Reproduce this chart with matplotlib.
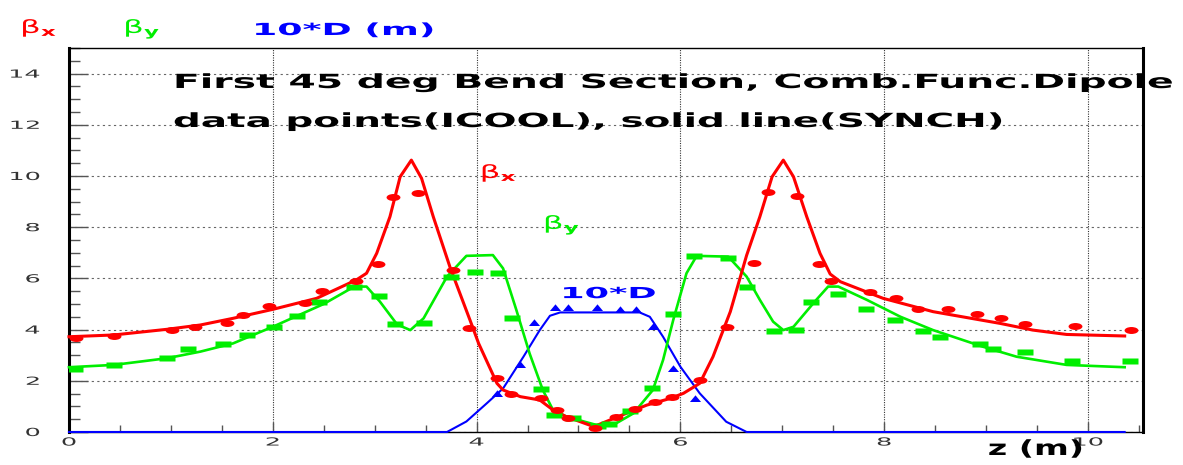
import numpy as np
import matplotlib.pyplot as plt
from matplotlib.path import Path
from matplotlib.patheffects import AbstractPathEffect
from matplotlib.transforms import Affine2D
from matplotlib.ticker import MultipleLocator

plt.rcParams['font.family'] = 'DejaVu Sans'
plt.rcParams['mathtext.fontset'] = 'dejavusans'

# SYNCH lattice functions (solid lines), z in m
z_synch_bx = [0, 0.44, 0.96, 1.29, 1.61, 2.0, 2.43, 2.82, 2.92, 3.02, 3.15, 3.25,
              3.36, 3.46, 3.575, 3.74, 3.935, 4.02, 4.20, 4.26, 4.43, 4.62, 4.75,
              4.88, 5.15, 5.31, 5.47, 5.67, 5.90, 6.03, 6.19, 6.32, 6.49, 6.65,
              6.78, 6.90, 7.01, 7.11, 7.24, 7.37, 7.47, 7.57, 7.99, 8.48, 9.14,
              9.46, 9.79, 10.36]
beta_x_synch = [3.72, 3.79, 4.01, 4.18, 4.44, 4.79, 5.22, 5.94, 6.2, 6.98, 8.41, 9.97,
                10.62, 9.91, 8.41, 6.43, 4.375, 3.46, 1.90, 1.64, 1.38, 1.25, 0.86,
                0.60, 0.21, 0.47, 0.73, 1.05, 1.31, 1.51, 1.90, 2.94, 4.7, 6.9,
                8.41, 9.97, 10.62, 9.97, 8.41, 6.98, 6.17, 5.87, 5.22, 4.70, 4.24,
                3.98, 3.81, 3.75]

z_synch_by = [0, 0.44, 0.96, 1.29, 1.61, 2.0, 2.50, 2.80, 2.92, 3.05, 3.22, 3.35,
              3.48, 3.71, 3.90, 4.16, 4.26, 4.39, 4.52, 4.65, 4.75, 4.88, 5.18,
              5.34, 5.54, 5.73, 5.83, 5.93, 6.06, 6.16, 6.47, 6.65, 6.78, 6.91,
              7.01, 7.11, 7.32, 7.45, 7.55, 7.83, 8.16, 8.48, 8.97, 9.30, 9.79,
              10.36]
beta_y_synch = [2.53, 2.62, 2.88, 3.14, 3.46, 4.11, 5.0, 5.68, 5.68, 5.1, 4.2, 3.98,
                4.44, 6.07, 6.88, 6.91, 6.39, 4.77, 3.07, 1.64, 0.86, 0.60, 0.27,
                0.27, 0.73, 1.64, 2.81, 4.375, 6.20, 6.88, 6.85, 6.07, 5.16, 4.31,
                3.98, 4.11, 5.1, 5.68, 5.68, 5.16, 4.50, 3.98, 3.33, 2.94, 2.62,
                2.53]

z_synch_d = [0, 3.71, 3.90, 4.10, 4.26, 4.46, 4.62, 4.72, 4.82, 5.60, 5.70, 5.83,
             6.00, 6.19, 6.45, 6.65, 10.36]
disp10_synch = [0, 0, 0.41, 1.12, 1.70, 2.94, 3.98, 4.54, 4.67, 4.67, 4.50, 3.72,
                2.55, 1.51, 0.40, 0, 0]

# ICOOL tracking results (data points)
z_icool_bx = [0.07, 0.44, 1.01, 1.24, 1.55, 1.71, 1.96, 2.32, 2.48, 2.82, 3.03,
              3.18, 3.43, 3.77, 3.93, 4.20, 4.34, 4.63, 4.79, 4.90, 5.16, 5.37,
              5.55, 5.75, 5.92, 6.19, 6.46, 6.72, 6.86, 7.14, 7.36, 7.48, 7.86,
              8.12, 8.33, 8.63, 8.91, 9.15, 9.38, 9.87, 10.42]
beta_x_icool = [3.68, 3.75, 3.98, 4.09, 4.24, 4.57, 4.93, 5.05, 5.49, 5.90, 6.55,
                9.19, 9.32, 6.33, 4.07, 2.12, 1.48, 1.31, 0.86, 0.56, 0.17, 0.57,
                0.89, 1.18, 1.38, 2.03, 4.09, 6.59, 9.36, 9.21, 6.55, 5.90, 5.48,
                5.22, 4.82, 4.79, 4.62, 4.44, 4.20, 4.15, 3.98]

z_icool_by = [0.06, 0.44, 0.96, 1.17, 1.51, 1.75, 2.01, 2.24, 2.45, 2.80, 3.04,
              3.20, 3.48, 3.75, 3.98, 4.21, 4.35, 4.63, 4.76, 4.95, 5.19, 5.30,
              5.51, 5.72, 5.93, 6.13, 6.47, 6.65, 6.92, 7.13, 7.28, 7.55, 7.82,
              8.11, 8.38, 8.55, 8.94, 9.07, 9.38, 9.84, 10.41]
beta_y_icool = [2.45, 2.62, 2.88, 3.23, 3.42, 3.80, 4.09, 4.54, 5.09, 5.65, 5.33,
                4.22, 4.27, 6.04, 6.25, 6.20, 4.44, 1.67, 0.66, 0.53, 0.23, 0.30,
                0.83, 1.72, 4.61, 6.88, 6.78, 5.65, 3.95, 3.98, 5.08, 5.38, 4.82,
                4.375, 3.93, 3.70, 3.43, 3.24, 3.14, 2.79, 2.79]

z_icool_d = [4.20, 4.43, 4.56, 4.77, 4.90, 5.18, 5.41, 5.56, 5.73, 5.93, 6.14]
disp10_icool = [1.47, 2.62, 4.27, 4.85, 4.85, 4.85, 4.77, 4.77, 4.11, 2.46, 1.27]

xticks = [0, 2, 4, 6, 8, 10]
yticks = [0, 2, 4, 6, 8, 10, 12, 14]

RED, GREEN, BLUE = '#ff0000', '#00ee00', '#0000ff'


class Widen(AbstractPathEffect):
    """Draw text glyphs stretched horizontally about a fixed edge or the centre."""

    def __init__(self, sx, anchor='left'):
        super().__init__()
        self.sx = sx
        self.anchor = anchor

    def draw_path(self, renderer, gc, tpath, affine, rgbFace=None):
        verts = tpath.vertices
        if tpath.codes is not None:
            verts = verts[tpath.codes != Path.CLOSEPOLY]
        if len(verts) == 0:
            return
        if self.anchor == 'right':
            x0 = verts[:, 0].max()
        elif self.anchor == 'center':
            x0 = 0.5 * (verts[:, 0].min() + verts[:, 0].max())
        else:
            x0 = 0.0
        stretch = Affine2D().translate(-x0, 0).scale(self.sx, 1.0).translate(x0, 0)
        renderer.draw_path(gc, tpath, stretch + affine, rgbFace)


# flattened marker shapes
ellipse = Path.unit_circle().transformed(Affine2D().scale(1.0, 0.5))
flat_rect = Path([(-1, -0.4), (1, -0.4), (1, 0.4), (-1, 0.4), (-1, -0.4)],
                 [Path.MOVETO, Path.LINETO, Path.LINETO, Path.LINETO, Path.CLOSEPOLY])
flat_tri = Path([(-1, -0.45), (1, -0.45), (0, 0.75), (-1, -0.45)],
                [Path.MOVETO, Path.LINETO, Path.LINETO, Path.CLOSEPOLY])

fig = plt.figure(figsize=(11.83, 4.65), dpi=100)
ax = fig.add_axes([0.0583, 0.0710, 0.9079, 0.8258])

ax.plot(z_synch_d, disp10_synch, color=BLUE, lw=1.5, clip_on=False, zorder=4)
ax.plot(z_synch_by, beta_y_synch, color=GREEN, lw=1.9, clip_on=False, zorder=4)
ax.plot(z_synch_bx, beta_x_synch, color=RED, lw=2.2, clip_on=False, zorder=5)

ax.plot(z_icool_d, disp10_icool, ls='none', marker=flat_tri, ms=8,
        color=BLUE, mec='none', zorder=6)
ax.plot(z_icool_by, beta_y_icool, ls='none', marker=flat_rect, ms=11,
        color=GREEN, mec='none', zorder=6)
ax.plot(z_icool_bx, beta_x_icool, ls='none', marker=ellipse, ms=10,
        color=RED, mec='none', zorder=7)

ax.set_xlim(0, 10.54)
ax.set_ylim(0, 15)
ax.set_xticks(xticks)
ax.set_yticks(yticks)
ax.xaxis.set_minor_locator(MultipleLocator(0.5))
ax.yaxis.set_minor_locator(MultipleLocator(0.5))
ax.tick_params(axis='y', which='major', direction='in', length=14, width=1,
               color='#555555', pad=21, labelsize=8, labelcolor='#333333')
ax.tick_params(axis='y', which='minor', direction='in', length=8, width=1,
               color='#555555')
ax.tick_params(axis='x', which='major', direction='in', length=7, width=1,
               color='#555555', pad=4, labelsize=8, labelcolor='#333333')
ax.tick_params(axis='x', which='minor', direction='in', length=5, width=1,
               color='#555555')
for lab in ax.get_yticklabels():
    lab.set_path_effects([Widen(2.3, 'right')])
for lab in ax.get_xticklabels():
    lab.set_path_effects([Widen(2.3, 'center')])

ax.grid(True, axis='y', which='major', color='#666666', lw=0.8, ls=(0, (2, 3)))
ax.grid(True, axis='x', which='major', color='#333333', lw=0.8, ls=(0, (1, 1.2)))

for side in ('left', 'right'):
    ax.spines[side].set_linewidth(2.2)
ax.spines['top'].set_linewidth(1.0)
ax.spines['bottom'].set_linewidth(1.0)
for sp in ax.spines.values():
    sp.set_color('black')

# curve labels inside the frame
ax.text(4.03, 9.92, r'β$_{\mathbf{x}}$', color=RED, fontsize=13,
        path_effects=[Widen(1.8)])
ax.text(4.65, 7.93, r'β$_{\mathbf{y}}$', color=GREEN, fontsize=13,
        path_effects=[Widen(1.8)])
ax.text(4.82, 5.23, '10*D', color=BLUE, fontsize=11, fontweight='bold',
        path_effects=[Widen(2.3)])

ax.text(0.1462, 0.8108, 'First 45 deg Bend Section, Comb.Func.Dipole',
        transform=fig.transFigure, fontsize=14, fontweight='bold',
        path_effects=[Widen(2.02)], zorder=10)
ax.text(0.1462, 0.7269, 'data points(ICOOL), solid line(SYNCH)',
        transform=fig.transFigure, fontsize=14, fontweight='bold',
        path_effects=[Widen(2.0)], zorder=10)

# legend-style labels along the top edge
fig.text(0.0169, 0.929, r'β$_{\mathbf{x}}$', color=RED, fontsize=13,
         path_effects=[Widen(1.8)])
fig.text(0.104, 0.929, r'β$_{\mathbf{y}}$', color=GREEN, fontsize=13,
         path_effects=[Widen(1.8)])
fig.text(0.213, 0.9247, '10*D (m)', color=BLUE, fontsize=12, fontweight='bold',
         path_effects=[Widen(2.18)])

fig.text(0.835, 0.0215, 'z (m)', fontsize=15, fontweight='bold',
         path_effects=[Widen(1.6)])

fig.savefig('out.png', dpi=100)
